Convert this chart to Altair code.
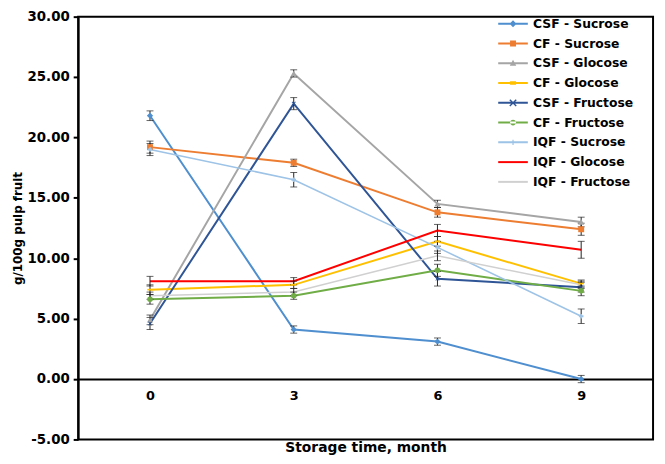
import altair as alt
import pandas as pd

months = [0, 3, 6, 9]
series_names = ["CSF - Sucrose", "CF - Sucrose", "CSF - Glocose", "CF - Glocose",
                "CSF - Fructose", "CF - Fructose", "IQF - Sucrose", "IQF - Glocose",
                "IQF - Fructose"]
colors = ["#4F8FCF", "#ED7D31", "#A5A5A5", "#FFC000", "#2F5597", "#70AD47",
          "#9DC3E6", "#FF0000", "#D0D0D0"]

csf_sucrose = [21.8, 4.1, 3.1, 0.0]
cf_sucrose = [19.2, 17.9, 13.8, 12.4]
csf_glocose = [4.9, 25.3, 14.5, 13.0]
cf_glocose = [7.4, 7.8, 11.4, 7.9]
csf_fructose = [4.6, 22.8, 8.3, 7.6]
cf_fructose = [6.6, 6.9, 9.0, 7.3]
iqf_sucrose = [19.0, 16.5, 10.9, 5.2]
iqf_glocose = [8.1, 8.1, 12.3, 10.7]
iqf_fructose = [6.9, 7.2, 10.2, 7.8]

err_csf_sucrose = [0.4, 0.3, 0.3, 0.3]
err_cf_sucrose = [0.5, 0.3, 0.4, 0.5]
err_csf_glocose = [0.4, 0.3, 0.3, 0.4]
err_cf_glocose = [0.4, 0.3, 0.4, 0.3]
err_csf_fructose = [0.5, 0.5, 0.6, 0.4]
err_cf_fructose = [0.4, 0.3, 0.5, 0.4]
err_iqf_sucrose = [0.5, 0.6, 0.5, 0.6]
err_iqf_glocose = [0.4, 0.3, 0.5, 0.7]
err_iqf_fructose = [0.3, 0.3, 0.4, 0.3]

values = [csf_sucrose, cf_sucrose, csf_glocose, cf_glocose, csf_fructose,
          cf_fructose, iqf_sucrose, iqf_glocose, iqf_fructose]
errors = [err_csf_sucrose, err_cf_sucrose, err_csf_glocose, err_cf_glocose,
          err_csf_fructose, err_cf_fructose, err_iqf_sucrose, err_iqf_glocose,
          err_iqf_fructose]

rows = []
for name, vals, errs in zip(series_names, values, errors):
    for m, v, e in zip(months, vals, errs):
        rows.append({"series": name, "month": m, "value": v, "lo": v - e, "hi": v + e})
df = pd.DataFrame(rows)

FONT = "DejaVu Sans"
PLOT_H = 428
Y_MIN, Y_MAX = -5, 30

x_enc = alt.X("month:O", scale=alt.Scale(type="point", padding=0.5),
              axis=alt.Axis(title="Storage time, month",
                            offset=-(0 - Y_MIN) / (Y_MAX - Y_MIN) * PLOT_H,
                            labelAngle=0, ticks=False, tickSize=0, labelPadding=11,
                            grid=False, domainColor="black", domainWidth=2,
                            labelFont=FONT, labelFontSize=13, labelFontWeight="bold",
                            labelColor="black", titleFont=FONT, titleFontSize=14,
                            titleFontWeight="bold", titleColor="black", titlePadding=38))
y_scale = alt.Scale(domain=[Y_MIN, Y_MAX], nice=False, zero=False)
y_enc = alt.Y("value:Q", scale=y_scale,
              axis=alt.Axis(title="g/100g pulp fruit", values=[-5, 0, 5, 10, 15, 20, 25, 30],
                            labelExpr="(datum.value < 0 ? '-' : '') + format(abs(datum.value), '.2f')",
                            grid=False, tickSize=5, tickColor="black",
                            tickWidth=2, domainColor="black", domainWidth=2,
                            labelPadding=4, labelFont=FONT, labelFontSize=13.5,
                            labelFontWeight="bold", labelColor="black",
                            titleFont=FONT, titleFontSize=12, titleFontWeight="bold",
                            titleColor="black", titlePadding=3))

color_scale = alt.Scale(domain=series_names, range=colors)

# axes carrier (invisible)
axes_layer = alt.Chart(df).mark_point(opacity=0).encode(x=x_enc, y=y_enc)

line_layers = []
for name, col in zip(series_names, colors):
    sw = 1.6 if name in ("IQF - Sucrose", "IQF - Fructose") else 2
    line_layers.append(
        alt.Chart(df).transform_filter(alt.datum.series == name)
        .mark_line(strokeWidth=sw, color=col)
        .encode(x="month:O", y="value:Q")
    )

err_rule = alt.Chart(df).mark_rule(color="#222222", strokeWidth=1).encode(
    x="month:O", y="lo:Q", y2="hi:Q")
err_lo = alt.Chart(df).mark_tick(color="#222222", thickness=1, size=7).encode(
    x="month:O", y="lo:Q")
err_hi = alt.Chart(df).mark_tick(color="#222222", thickness=1, size=7).encode(
    x="month:O", y="hi:Q")

xpath = ("M-0.75,-0.55L-0.55,-0.75L0.75,0.55L0.55,0.75Z "
         "M0.55,-0.75L0.75,-0.55L-0.55,0.75L-0.75,0.55Z")
marker_specs = [
    ("CSF - Sucrose", "diamond", 40),
    ("CF - Sucrose", "square", 36),
    ("CSF - Glocose", "triangle-up", 40),
    ("CF - Glocose", "M-1,-0.3H1V0.3H-1Z", 30),
    ("CSF - Fructose", xpath, 30),
    ("CF - Fructose", "circle", 32),
    ("IQF - Sucrose", "cross", 22),
]
marker_layers = []
for name, shape, size in marker_specs:
    col = colors[series_names.index(name)]
    marker_layers.append(
        alt.Chart(df).transform_filter(alt.datum.series == name)
        .mark_point(shape=shape, size=size, filled=True, color=col, opacity=1)
        .encode(x="month:O", y="value:Q")
    )

line_part = "M-3,-0.2H3V0.2H-3Z"
legend_markers = [
    "M0,-0.7L0.7,0L0,0.7L-0.7,0Z",
    "M-0.6,-0.6H0.6V0.6H-0.6Z",
    "M0,-0.7L0.65,0.5L-0.65,0.5Z",
    "M-0.6,-0.35H0.6V0.35H-0.6Z",
    xpath,
    "M-0.6,0A0.6,0.6 0 1,0 0.6,0A0.6,0.6 0 1,0 -0.6,0Z",
    "M-0.12,-0.55H0.12V0.55H-0.12Z",
    "",
    "",
]
legend_paths = [(line_part + " " + mk).strip() for mk in legend_markers]

legend_props = dict(orient="none", legendX=434, legendY=1, title=None,
                    labelFont=FONT, labelFontWeight="bold", labelFontSize=12.5,
                    labelColor="black", labelOffset=14, rowPadding=7,
                    symbolOpacity=1, symbolSize=100, symbolStrokeWidth=0, padding=0)

legend_layer = alt.Chart(df).mark_point(filled=True, size=100, opacity=0).encode(
    x="month:O", y="value:Q",
    color=alt.Color("series:N", scale=color_scale, legend=alt.Legend(**legend_props)),
    shape=alt.Shape("series:N", scale=alt.Scale(domain=series_names, range=legend_paths),
                    legend=alt.Legend(**legend_props)),
)

chart = alt.layer(axes_layer, *line_layers, err_rule, err_lo, err_hi, *marker_layers,
                  legend_layer).properties(
    width=582, height=PLOT_H,
    background="white",
    autosize=alt.AutoSizeParams(type="none"),
    padding={"left": 71, "top": 6, "right": 4, "bottom": 14},
).configure_view(stroke="black", strokeWidth=2)

chart.save("out.html", embed_options={"renderer": "svg", "actions": False})
